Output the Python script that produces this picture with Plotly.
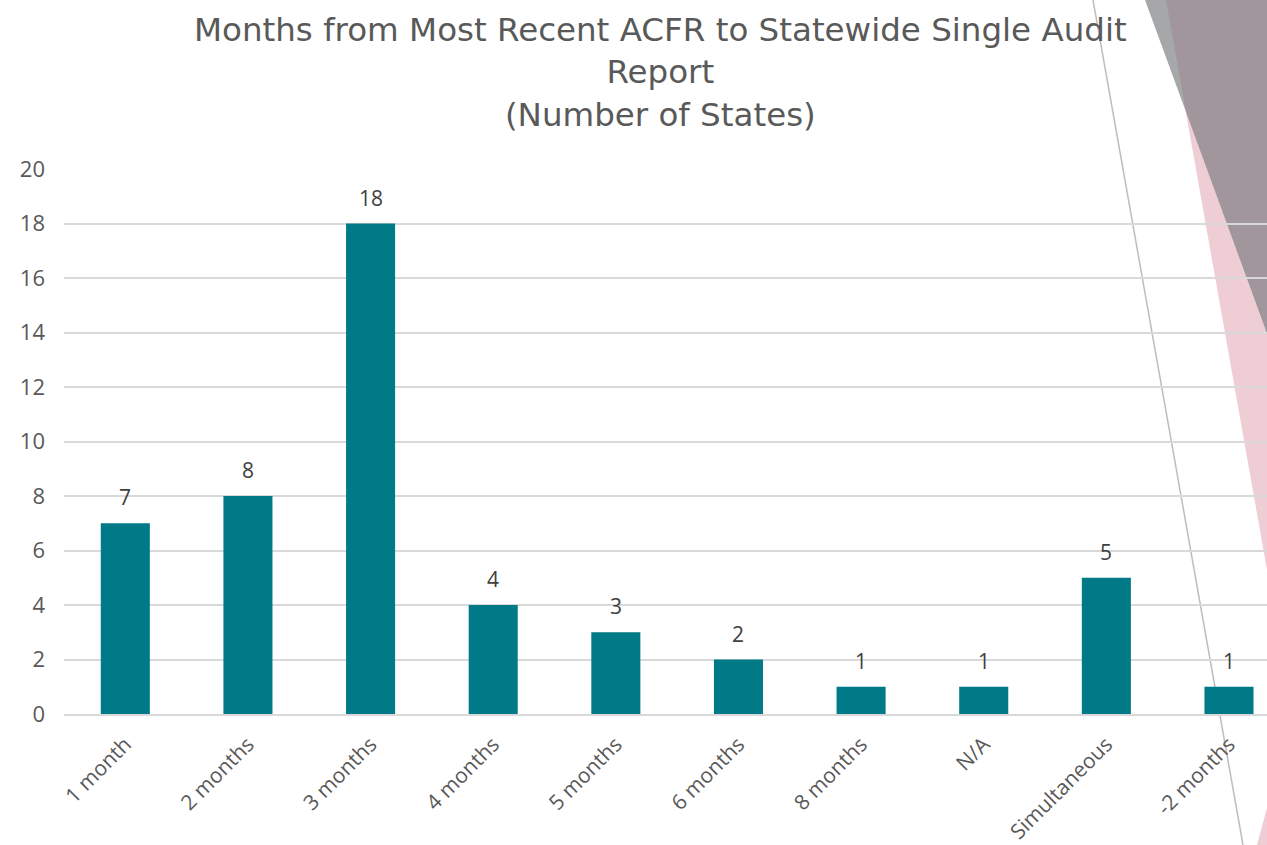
import plotly.graph_objects as go

categories = ["1 month", "2 months", "3 months", "4 months", "5 months",
              "6 months", "8 months", "N/A", "Simultaneous", "-2 months"]
values = [7, 8, 18, 4, 3, 2, 1, 1, 5, 1]
y_ticks = [0, 2, 4, 6, 8, 10, 12, 14, 16, 18, 20]
title_text = ("Months from Most Recent ACFR to Statewide Single Audit<br>"
              "Report<br>(Number of States)")

W, H = 1267, 845
L, R, T, B = 64, 0, 169, 131
PW = W - L - R
PH = H - T - B


def px(x, y):
    return (x - L) / PW, (H - B - y) / PH


def path(points):
    parts = []
    for i, (x, y) in enumerate(points):
        xp, yp = px(x, y)
        parts.append(("M" if i == 0 else "L") + f"{xp:.5f},{yp:.5f}")
    return " ".join(parts) + " Z"


shapes = [
    dict(type="path", xref="paper", yref="paper", layer="below",
         path=path([(1166, 0), (1267, 0), (1267, 570)]),
         fillcolor="#EFCDD5", line=dict(width=0)),
    dict(type="path", xref="paper", yref="paper", layer="below",
         path=path([(1267, 808), (1257, 845), (1267, 845)]),
         fillcolor="#EFCDD5", line=dict(width=0)),
    dict(type="path", xref="paper", yref="paper", layer="below",
         path=path([(1145, 0), (1267, 0), (1267, 333)]),
         fillcolor="#A5A7A9", line=dict(width=0)),
    dict(type="path", xref="paper", yref="paper", layer="below",
         path=path([(1166, 0), (1267, 0), (1267, 333), (1186, 111)]),
         fillcolor="#A0969B", line=dict(width=0)),
]
x0, y0 = px(1093, 0)
x1, y1 = px(1243, 845)
shapes.append(dict(type="line", xref="paper", yref="paper", layer="below",
                   x0=x0, y0=y0, x1=x1, y1=y1,
                   line=dict(color="#BDBDBD", width=1.5)))

fig = go.Figure()
fig.add_trace(go.Bar(
    x=list(range(len(categories))), y=values,
    marker=dict(color="#007A87", line=dict(width=0)),
    hoverinfo="skip",
))

annotations = [
    dict(x=i, y=v, text=str(v), showarrow=False, yshift=26,
         font=dict(size=21, color="#404040"), xref="x", yref="y")
    for i, v in enumerate(values)
]
annotations.append(dict(
    x=px(660, 0)[0], y=px(0, 72)[1], xref="paper", yref="paper",
    text=title_text, showarrow=False,
    font=dict(family="DejaVu Sans", size=32.5, color="#595959"),
    xanchor="center", yanchor="middle", align="center",
))

fig.update_layout(
    width=W, height=H,
    margin=dict(l=L, r=R, t=T, b=B, pad=0, autoexpand=False),
    paper_bgcolor="white", plot_bgcolor="rgba(0,0,0,0)",
    font=dict(family="Open Sans", color="#595959"),
    bargap=0.6, showlegend=False,
    shapes=shapes, annotations=annotations,
    xaxis=dict(
        tickmode="array", tickvals=list(range(len(categories))), ticktext=categories,
        range=[-0.5, 9.31], tickangle=-45, showgrid=False, zeroline=False,
        showline=True, linecolor="#D9D9D9", linewidth=1.5, ticks="",
        tickfont=dict(size=21, color="#595959"), ticklabelstandoff=8,
        automargin=False,
    ),
    yaxis=dict(
        range=[0, 20], tickmode="array", tickvals=y_ticks,
        showgrid=True, gridcolor="#D9D9D9", gridwidth=1.5,
        zeroline=False, showline=False, ticks="",
        tickfont=dict(size=22, color="#595959"), ticklabelstandoff=18,
        automargin=False,
    ),
)

fig.write_html("out.html", config={"displayModeBar": False},
               post_script="document.body.style.margin='0';document.body.style.overflow='hidden';")
